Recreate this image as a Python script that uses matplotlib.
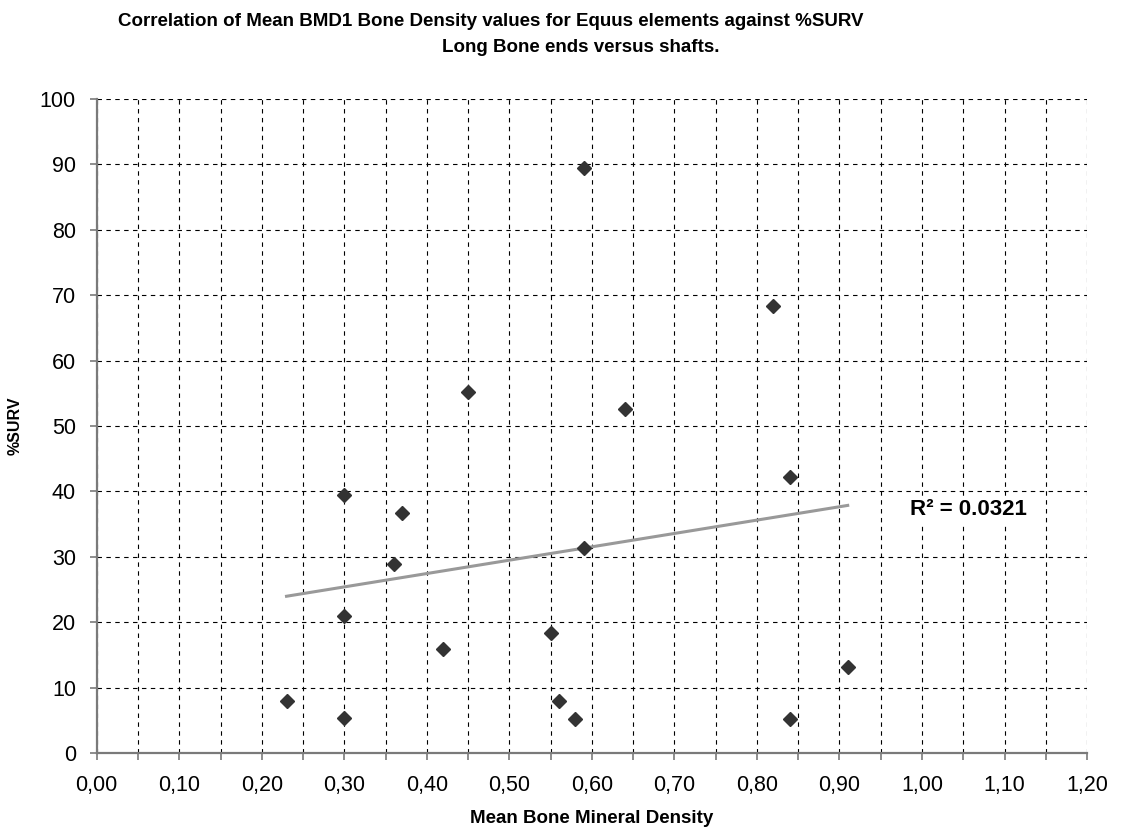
import numpy as np
import matplotlib.pyplot as plt
from matplotlib.ticker import MultipleLocator

plt.rcParams['font.family'] = ['Liberation Sans', 'DejaVu Sans']

# === Data ===
bmd = [0.23, 0.30, 0.30, 0.30, 0.36, 0.37, 0.42, 0.45, 0.55,
       0.56, 0.58, 0.59, 0.59, 0.64, 0.82, 0.84, 0.84, 0.91]
surv = [7.9, 5.3, 21.0, 39.4, 28.9, 36.7, 15.9, 55.2, 18.4,
        7.9, 5.2, 31.4, 89.4, 52.6, 68.3, 42.2, 5.2, 13.1]
r2_label = "R² = 0.0321"
title_1 = "Correlation of Mean BMD1 Bone Density values for Equus elements against %SURV"
title_2 = "Long Bone ends versus shafts."

# === Figure ===
fig = plt.figure(figsize=(11.26, 8.34), dpi=100)
ax = fig.add_axes([0.0859, 0.0971, 0.8795, 0.7842])

ax.set_xlim(0, 1.2)
ax.set_ylim(0, 100)

# grid: vertical every 0.05, horizontal every 10
ax.xaxis.set_major_locator(MultipleLocator(0.1))
ax.xaxis.set_minor_locator(MultipleLocator(0.05))
ax.yaxis.set_major_locator(MultipleLocator(10))
ax.xaxis.set_major_formatter(lambda v, p: f"{v:.2f}".replace('.', ','))
ax.grid(True, which='both', axis='x', color='black', lw=0.8, ls=(0, (4, 4)))
ax.grid(True, which='major', axis='y', color='black', lw=0.8, ls=(0, (4, 4)))
ax.set_axisbelow(True)

for s in ['top', 'right']:
    ax.spines[s].set_visible(False)
for s in ['left', 'bottom']:
    ax.spines[s].set_color('#7a7a7a')
    ax.spines[s].set_linewidth(1.6)

ax.tick_params(which='both', direction='out', length=5, width=1.2, color='#7a7a7a')
ax.tick_params(axis='x', labelsize=15.5, pad=11)
ax.tick_params(axis='y', labelsize=15.5, pad=10)

# scatter points
ax.plot(bmd, surv, ls='none', marker='D', ms=7.4, color='#333333', zorder=3)

# linear trend line
coef = np.polyfit(bmd, surv, 1)
xt = np.array([min(bmd), max(bmd)])
ax.plot(xt, np.polyval(coef, xt), color='#999999', lw=2.2, zorder=2)

ax.text(0.985, 37.2, r2_label, fontsize=16, fontweight='bold', va='center', ha='left',
        bbox=dict(facecolor='white', edgecolor='none', pad=2), zorder=4)

ax.set_xlabel("Mean Bone Mineral Density", fontsize=13.5, fontweight='bold', labelpad=10)
ax.set_ylabel("%SURV", fontsize=11.5, fontweight='bold', labelpad=12)

fig.text(491 / 1126, 1 - 22 / 834, title_1, fontsize=13.5, fontweight='bold', ha='center', va='center')
fig.text(581 / 1126, 1 - 47 / 834, title_2, fontsize=13.5, fontweight='bold', ha='center', va='center')

plt.savefig("out.png", dpi=100, facecolor='white')
